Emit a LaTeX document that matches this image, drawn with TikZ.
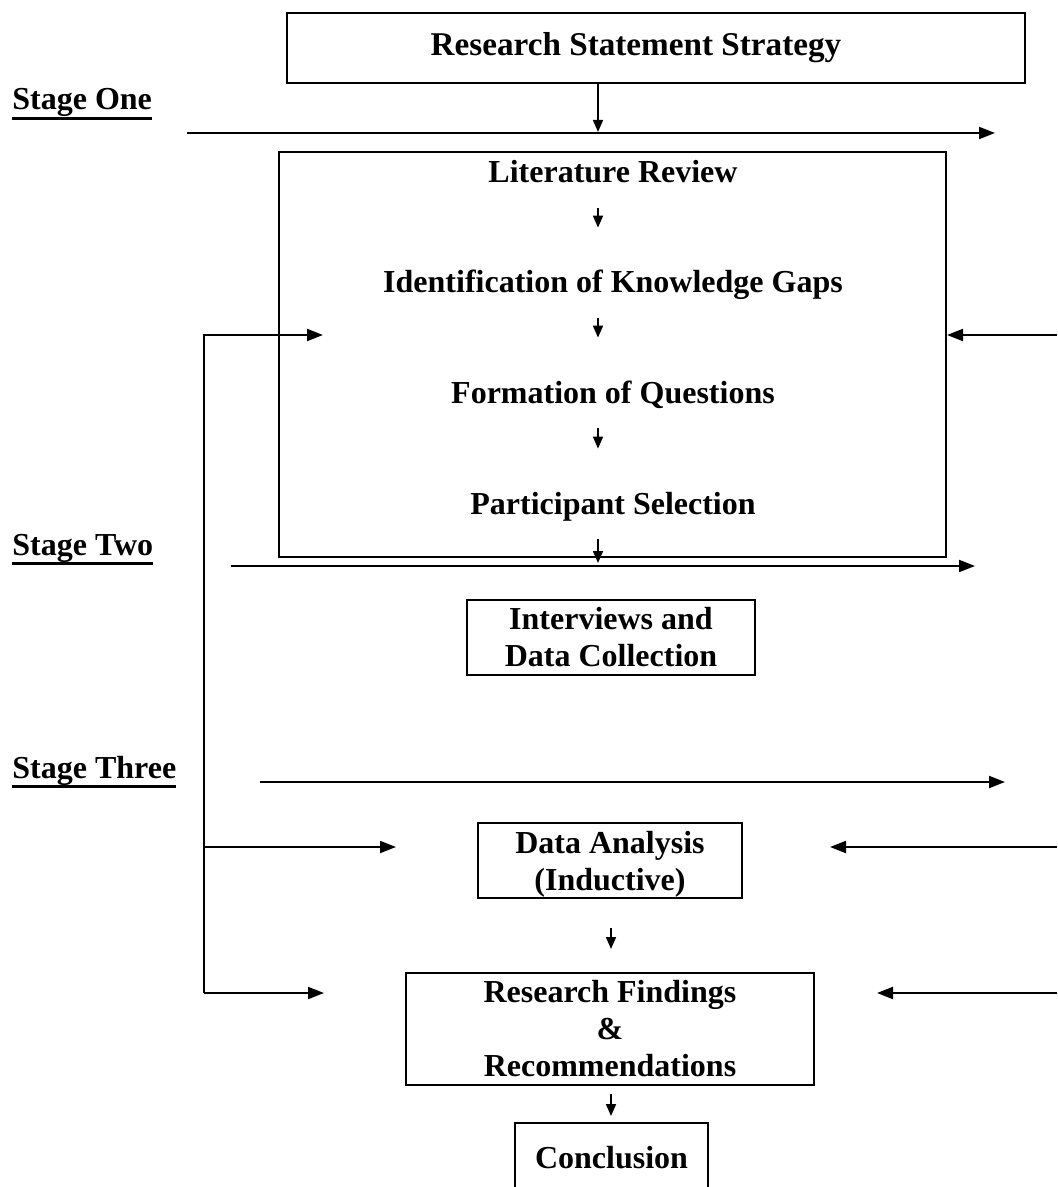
\documentclass[tikz,border=0pt]{standalone}
\usepackage{fontspec}
\setmainfont{Liberation Serif}
\usetikzlibrary{arrows.meta}
\newcommand{\stageul}[1]{\setbox0\hbox{#1}\rlap{\rule[-4.8pt]{\wd0}{1.3pt}}\box0}

\begin{document}
\begin{tikzpicture}[x=0.5pt,y=-0.5pt,
    every node/.style={font=\fontsize{16}{18.5}\selectfont\bfseries},
    lbl/.style={inner sep=0pt,text height=13pt,text depth=3pt},
    stagebox/.style={draw,line width=1pt,align=center,inner sep=0pt},
    flow/.style={line width=0.8pt,-{Triangle[length=6pt,width=5pt]},
      shorten <=9.5pt,shorten >=19.5pt},
    longarr/.style={line width=1pt,-{Triangle[length=8pt,width=6pt]}}]
  \useasboundingbox (0,0) rectangle (1057,1187);
  \coordinate (spine) at (598,0);
  \coordinate (spinelow) at (611,0);

  % top of the plan
  \node[stagebox,minimum width=369pt,minimum height=35pt,
    font=\fontsize{16.6}{18.5}\selectfont\bfseries] (rss) at (656,48)
    {Research Statement Strategy\hspace*{20pt}};
  \node[anchor=base west,inner sep=0pt] (s1) at (12,110) {\stageul{Stage One}};
  \coordinate (s1a) at (187,133);
  \coordinate (s1b) at (995,133);
  \draw[longarr] (s1a) -- (s1b);
  \draw[flow,shorten <=0pt,shorten >=0.5pt] (rss.south -| spine) -- (s1a -| spine);

  % stage one frame
  \node[draw,line width=1pt,minimum width=333.5pt,minimum height=202.5pt] (review)
    at (612.5,354.5) {};
  \node[lbl] (lit) at (613,173) {Literature Review};
  \node[lbl] (gaps) at (613,283) {Identification of Knowledge Gaps};
  \node[lbl] (quest) at (613,393) {Formation of Questions};
  \node[lbl] (part) at (613,504) {Participant Selection};
  \foreach \a/\b in {lit/gaps,gaps/quest,quest/part}{
    \draw[flow] (\a.south -| spine) -- (\b.north -| spine);
  }

  % stage two
  \node[anchor=base west,inner sep=0pt] (s2) at (12,555) {\stageul{Stage Two}};
  \coordinate (s2a) at (231,566);
  \coordinate (s2b) at (975,566);
  \draw[longarr] (s2a) -- (s2b);
  \draw[flow,shorten >=1.5pt] (part.south -| spine) -- (s2a -| spine);
  \node[stagebox,minimum width=144pt,minimum height=37.5pt] (intv) at (611,637.5)
    {Interviews and\\Data Collection};

  % stage three
  \node[anchor=base west,inner sep=0pt] (s3) at (12,778) {\stageul{Stage Three}};
  \coordinate (s3a) at (260,782);
  \coordinate (s3b) at (1005,782);
  \draw[longarr] (s3a) -- (s3b);
  \node[stagebox,minimum width=132pt,minimum height=37.5pt,text depth=0pt] (anal)
    at (610,860.5) {Data Analysis\\(Inductive)};
  \node[stagebox,minimum width=204pt,minimum height=56pt] (find) at (610,1029)
    {Research Findings\\\&\\Recommendations};
  \node[stagebox,minimum width=96.5pt,minimum height=35pt] (concl) at (611.5,1158)
    {Conclusion};
  \draw[flow,shorten <=14.5pt,shorten >=11.5pt] (anal.south -| spinelow) -- (find.north -| spinelow);
  \draw[flow,shorten <=4pt,shorten >=3pt] (find.south -| spinelow) -- (concl.north -| spinelow);

  % feedback lines
  \coordinate (fb1) at (204,335);
  \coordinate (fb2) at (204,847);
  \coordinate (fb3) at (204,993);
  \coordinate (lt1) at (323,335);
  \coordinate (lt2) at (396,847);
  \coordinate (lt3) at (324,993);
  \coordinate (rt1) at (1057,335);
  \coordinate (rt2) at (1057,847);
  \coordinate (rt3) at (1057,993);
  \draw[longarr] (fb3) -- (fb1) -- (lt1);
  \draw[longarr] (fb2) -- (lt2);
  \draw[longarr] (fb3) -- (lt3);
  \draw[longarr] (rt1) -- (rt1 -| review.east);
  \draw[longarr] (rt2) -- (830,847);
  \draw[longarr] (rt3) -- (877,993);
\end{tikzpicture}
\end{document}
